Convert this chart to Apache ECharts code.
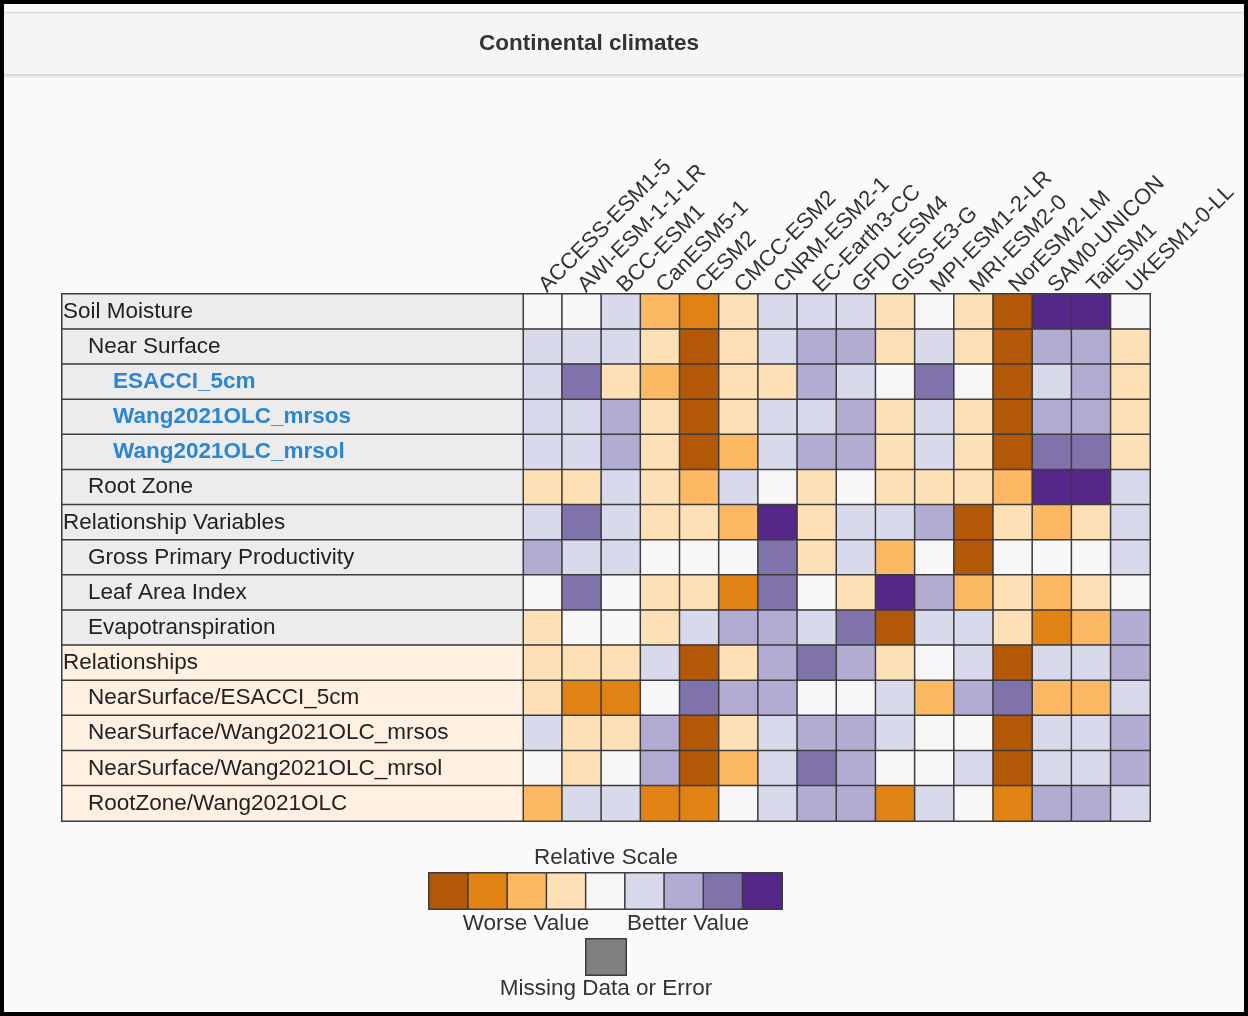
<!DOCTYPE html>
<html>
<head>
<meta charset="utf-8">
<script src="https://cdn.jsdelivr.net/npm/echarts@6/dist/echarts.min.js"></script>
<style>
html,body{margin:0;padding:0;background:#fafafa;}
#c{width:1248px;height:1016px;}
</style>
</head>
<body>
<div id="c"></div>
<script>
const models = ['ACCESS-ESM1-5','AWI-ESM-1-1-LR','BCC-ESM1','CanESM5-1','CESM2','CMCC-ESM2','CNRM-ESM2-1','EC-Earth3-CC','GFDL-ESM4','GISS-E3-G','MPI-ESM1-2-LR','MRI-ESM2-0','NorESM2-LM','SAM0-UNICON','TaiESM1','UKESM1-0-LL'];
const rowLabels = ['Soil Moisture','Near Surface','ESACCI_5cm','Wang2021OLC_mrsos','Wang2021OLC_mrsol','Root Zone','Relationship Variables','Gross Primary Productivity','Leaf Area Index','Evapotranspiration','Relationships','NearSurface/ESACCI_5cm','NearSurface/Wang2021OLC_mrsos','NearSurface/Wang2021OLC_mrsol','RootZone/Wang2021OLC'];
const rowLevels = [0,1,2,2,2,1,0,1,1,1,0,1,1,1,1];
const rowSection = ['variables','variables','variables','variables','variables','variables','variables','variables','variables','variables','relationships','relationships','relationships','relationships','relationships'];
// relative scale class 0 (worse) .. 8 (better)
const scores = [
  [4,4,5,2,1,3,5,5,5,3,4,3,0,8,8,4],
  [5,5,5,3,0,3,5,6,6,3,5,3,0,6,6,3],
  [5,7,3,2,0,3,3,6,5,4,7,4,0,5,6,3],
  [5,5,6,3,0,3,5,5,6,3,5,3,0,6,6,3],
  [5,5,6,3,0,2,5,6,6,3,5,3,0,7,7,3],
  [3,3,5,3,2,5,4,3,4,3,3,3,2,8,8,5],
  [5,7,5,3,3,2,8,3,5,5,6,0,3,2,3,5],
  [6,5,5,4,4,4,7,3,5,2,4,0,4,4,4,5],
  [4,7,4,3,3,1,7,4,3,8,6,2,3,2,3,4],
  [3,4,4,3,5,6,6,5,7,0,5,5,3,1,2,6],
  [3,3,3,5,0,3,6,7,6,3,4,5,0,5,5,6],
  [3,1,1,4,7,6,6,4,4,5,2,6,7,2,2,5],
  [5,3,3,6,0,3,5,6,6,5,4,4,0,5,5,6],
  [4,3,4,6,0,2,5,7,6,4,4,5,0,5,5,6],
  [2,5,5,1,1,4,5,6,6,1,5,4,1,6,6,5]
];
const scaleLevels = [0,1,2,3,4,5,6,7,8];
const palette = ['#b35806','#e08214','#fdb863','#fee0b6','#f7f7f7','#d8daeb','#b2abd2','#8073ac','#542788'];
const title = 'Continental climates';

const FONT = '"Liberation Sans", Arial, Helvetica, sans-serif';
const FS = 22.5;
const heatData = [];
scores.forEach((row, r) => row.forEach((v, c) => heatData.push([c, r, v])));
const labelData = rowLabels.map((name, r) => ({
  value: [0, r, 0],
  itemStyle: {color: rowSection[r] === 'relationships' ? '#fff0e2' : '#ececec'},
  label: {
    padding: [0, 0, 0, 2 + 25 * rowLevels[r]],
    fontWeight: rowLevels[r] === 2 ? 'bold' : 'normal',
    color: rowLevels[r] === 2 ? '#2b86d3' : '#222'
  }
}));
const legendData = scaleLevels.map((v, i) => [i, 0, v]);

const chart = echarts.init(document.getElementById('c'), null, {renderer: 'canvas'});
const cellBorder = {borderColor: '#3c3c3c', borderWidth: 1.5};
const txt = (x, y, t, w) => ({type: 'text', style: {x: x, y: y, text: t, font: (w || '') + ' ' + FS + 'px ' + FONT, fill: '#333', textAlign: 'center', textVerticalAlign: 'middle'}});
chart.setOption({
  backgroundColor: '#fafafa',
  animation: false,
  textStyle: {fontFamily: FONT},
  grid: [
    {left: 523, top: 294, width: 627, height: 527},
    {left: 62, top: 294, width: 461, height: 527},
    {left: 429, top: 873, width: 353, height: 36},
    {left: 586, top: 939, width: 40, height: 36}
  ],
  xAxis: [
    {gridIndex: 0, type: 'category', data: models, position: 'top',
     axisLine: {show: false}, axisTick: {show: false}, splitLine: {show: false},
     axisLabel: {rotate: -45, interval: 0, fontSize: 22, color: '#333', margin: 5, fontFamily: FONT}},
    {gridIndex: 1, type: 'category', data: ['label'], show: false},
    {gridIndex: 2, type: 'category', data: scaleLevels.map(String), show: false},
    {gridIndex: 3, type: 'category', data: ['missing'], show: false}
  ],
  yAxis: [
    {gridIndex: 0, type: 'category', data: rowLabels, inverse: true, show: false},
    {gridIndex: 1, type: 'category', data: rowLabels, inverse: true, show: false},
    {gridIndex: 2, type: 'category', data: ['scale'], show: false},
    {gridIndex: 3, type: 'category', data: ['missing'], show: false}
  ],
  visualMap: {
    type: 'piecewise', show: false, seriesIndex: [0, 2], dimension: 2,
    pieces: scaleLevels.map((v, i) => ({value: v, color: palette[i]}))
  },
  series: [
    {type: 'heatmap', xAxisIndex: 0, yAxisIndex: 0, data: heatData, itemStyle: cellBorder, emphasis: {disabled: true}},
    {type: 'heatmap', xAxisIndex: 1, yAxisIndex: 1, data: labelData, itemStyle: cellBorder, emphasis: {disabled: true},
     label: {show: true, position: 'insideLeft', distance: 0, fontSize: FS, fontFamily: FONT,
       formatter: p => rowLabels[p.value[1]]}},
    {type: 'heatmap', xAxisIndex: 2, yAxisIndex: 2, data: legendData, itemStyle: cellBorder, emphasis: {disabled: true}},
    {type: 'heatmap', xAxisIndex: 3, yAxisIndex: 3, data: [[0, 0, 0]], itemStyle: {color: '#808080', borderColor: '#3c3c3c', borderWidth: 1.5}, emphasis: {disabled: true}}
  ],
  graphic: [
    {type: 'rect', z: -1, shape: {x: 4, y: 12, width: 1240, height: 63}, style: {fill: '#f5f5f5', stroke: null}},
    {type: 'line', shape: {x1: 4, y1: 12.5, x2: 1244, y2: 12.5}, style: {stroke: '#dcdcdc', lineWidth: 1.5}},
    {type: 'line', shape: {x1: 4, y1: 75, x2: 1244, y2: 75}, style: {stroke: '#d8d8d8', lineWidth: 2}},
    {type: 'line', shape: {x1: 4, y1: 77, x2: 1244, y2: 77}, style: {stroke: '#ececec', lineWidth: 2}},
    txt(589, 44, title, 'bold'),
    txt(606, 858, 'Relative Scale'),
    txt(526, 924, 'Worse Value'),
    txt(688, 924, 'Better Value'),
    txt(606, 989, 'Missing Data or Error'),
    {type: 'rect', shape: {x: 2, y: 2, width: 1244, height: 1012}, style: {fill: null, stroke: '#000', lineWidth: 4}}
  ]
});
</script>
</body>
</html>
